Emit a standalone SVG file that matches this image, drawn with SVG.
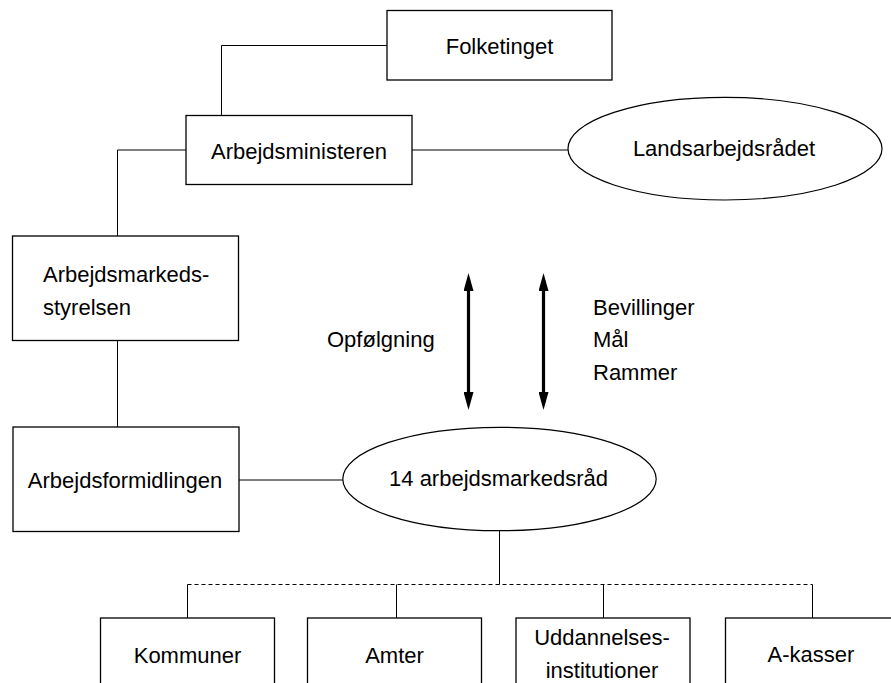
<svg xmlns="http://www.w3.org/2000/svg" width="891" height="683" viewBox="0 0 891 683">
<style>
  .box { fill: #fff; stroke: #000; stroke-width: 1.3; }
  .ell { fill: #fff; stroke: #000; stroke-width: 1.2; }
  .ln { fill: none; stroke: #000; stroke-width: 1; }
  .dash { fill: none; stroke: #000; stroke-width: 1; stroke-dasharray: 4 3; }
  .big { fill: none; stroke: #000; stroke-width: 3.2; }
  text { font-family: "Liberation Sans", Arial, sans-serif; font-size: 22px; fill: #000; }
  .c { text-anchor: middle; }
</style>
<defs>
  <marker id="ah" viewBox="0 0 18 10" markerWidth="18" markerHeight="10" refX="11" refY="5" orient="auto-start-reverse" markerUnits="userSpaceOnUse">
    <path d="M0,0 L18,5 L0,10 z" fill="#000"/>
  </marker>
</defs>
<rect width="891" height="683" fill="#fff"/>
<g id="connectors">
  <polyline class="ln" points="387,45.5 221.5,45.5 221.5,115"/>
  <polyline class="ln" points="186,150 117.5,150 117.5,236"/>
  <line class="ln" x1="412" y1="150" x2="568" y2="150"/>
  <line class="ln" x1="117.5" y1="340" x2="117.5" y2="427"/>
  <line class="ln" x1="239" y1="480" x2="343" y2="480"/>
  <line class="ln" x1="499.5" y1="530.5" x2="499.5" y2="584.5"/>
  <line class="dash" x1="187.5" y1="584.5" x2="812.5" y2="584.5"/>
  <line class="ln" x1="187.5" y1="584.5" x2="187.5" y2="618"/>
  <line class="ln" x1="396.5" y1="584.5" x2="396.5" y2="618"/>
  <line class="ln" x1="603.5" y1="584.5" x2="603.5" y2="618"/>
  <line class="ln" x1="812.5" y1="584.5" x2="812.5" y2="618"/>
  <line class="big" x1="468.5" y1="280" x2="468.5" y2="403" marker-start="url(#ah)" marker-end="url(#ah)"/>
  <line class="big" x1="543.5" y1="280" x2="543.5" y2="403" marker-start="url(#ah)" marker-end="url(#ah)"/>
</g>
<g id="folketinget">
  <rect class="box" x="387" y="10.5" width="225" height="69.5"/>
  <text class="c" x="499.5" y="54">Folketinget</text>
</g>
<g id="arbejdsministeren">
  <rect class="box" x="186" y="115.5" width="226" height="69"/>
  <text class="c" x="299" y="159">Arbejdsministeren</text>
</g>
<g id="landsarbejdsraadet">
  <ellipse class="ell" cx="725" cy="148.7" rx="157" ry="51.3"/>
  <text class="c" x="724" y="155.5">Landsarbejdsrådet</text>
</g>
<g id="arbejdsmarkedsstyrelsen">
  <rect class="box" x="12.5" y="236" width="226" height="104.5"/>
  <text x="43" y="281.5">Arbejdsmarkeds-</text>
  <text x="43" y="314.5">styrelsen</text>
</g>
<g id="arbejdsformidlingen">
  <rect class="box" x="13" y="427" width="226" height="104.5"/>
  <text class="c" x="125" y="488">Arbejdsformidlingen</text>
</g>
<g id="opfoelgning">
  <text x="327" y="347">Opfølgning</text>
</g>
<g id="bevillinger">
  <text x="593" y="315">Bevillinger</text>
  <text x="593" y="347">Mål</text>
  <text x="593" y="380">Rammer</text>
</g>
<g id="arbejdsmarkedsraad">
  <ellipse class="ell" cx="499.5" cy="479" rx="156.7" ry="51.7"/>
  <text class="c" x="498.5" y="485.5">14 arbejdsmarkedsråd</text>
</g>
<g id="kommuner">
  <rect class="box" x="100.5" y="618" width="174" height="80"/>
  <text class="c" x="187.5" y="662.5">Kommuner</text>
</g>
<g id="amter">
  <rect class="box" x="307.5" y="618" width="174" height="80"/>
  <text class="c" x="394.5" y="662.5">Amter</text>
</g>
<g id="uddannelsesinstitutioner">
  <rect class="box" x="516" y="618" width="174" height="80"/>
  <text class="c" x="602" y="645">Uddannelses-</text>
  <text class="c" x="602" y="678">institutioner</text>
</g>
<g id="a-kasser">
  <rect class="box" x="725.5" y="618" width="174" height="80"/>
  <text class="c" x="811" y="662">A-kasser</text>
</g>
</svg>
